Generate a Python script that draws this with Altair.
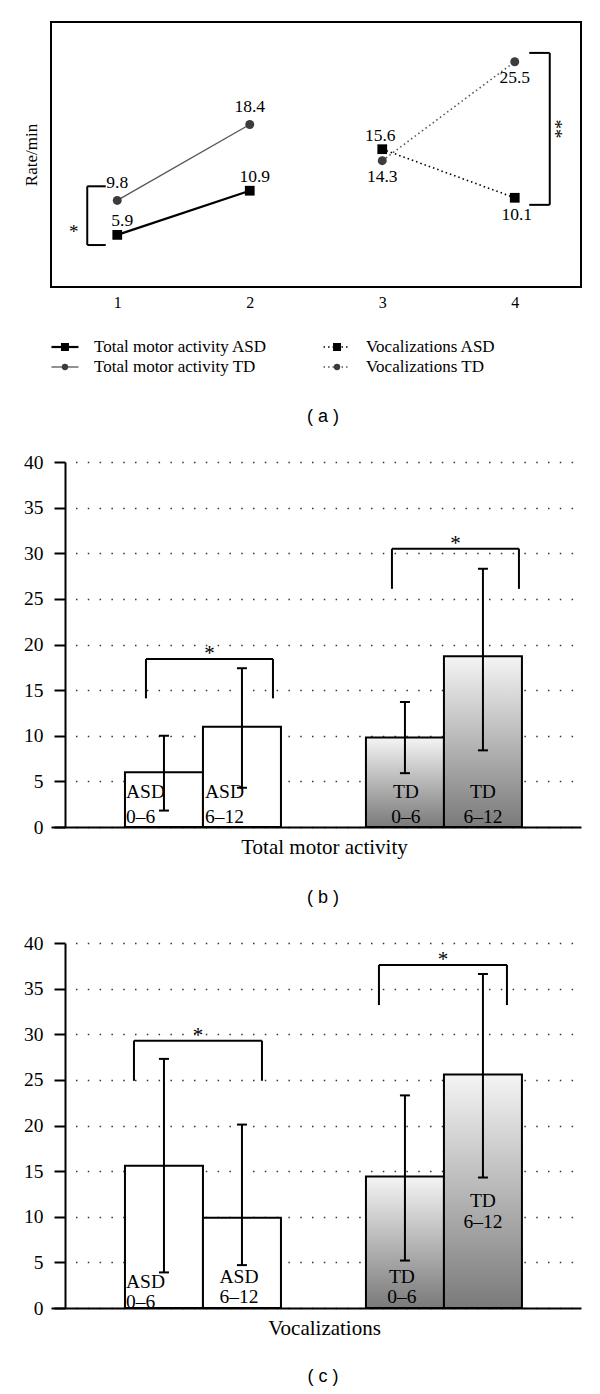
import altair as alt
import pandas as pd

SERIF = "Liberation Serif"
SANS = "Liberation Sans"

# ---------------- panel (a): mean rate/min ----------------
series = ["Total motor activity ASD", "Total motor activity TD",
          "Vocalizations ASD", "Vocalizations TD"]
time_points = [1, 2, 3, 4]
motor_x = [1, 2]
voc_x = [3, 4]
motor_asd = [5.9, 10.9]
motor_td = [9.8, 18.4]
voc_asd = [15.6, 10.1]
voc_td = [14.3, 25.5]

# significance brackets in (a), data units
bracket_a_x = [1, 4]
bracket_a_low = [4.75, 9.3]
bracket_a_high = [11.4, 26.5]
bracket_a_mark = ["*", "**"]

# ---------------- panels (b) and (c) ----------------
groups = ["ASD 0–6", "ASD 6–12", "TD 0–6", "TD 6–12"]
group_kind = ["ASD", "ASD", "TD", "TD"]
group_age = ["0–6", "6–12", "0–6", "6–12"]
motor_mean = [6.0, 11.0, 9.8, 18.7]
motor_err_low = [1.8, 4.3, 5.9, 8.4]
motor_err_high = [10.0, 17.4, 13.7, 28.3]
voc_mean = [15.6, 9.9, 14.4, 25.6]
voc_err_low = [3.9, 4.7, 5.2, 14.3]
voc_err_high = [27.3, 20.1, 23.3, 36.6]
y_ticks = [0, 5, 10, 15, 20, 25, 30, 35, 40]
sig_kind = ["ASD", "TD"]
sig_mark = ["*", "*"]
motor_sig_top = [18.4, 30.5]
motor_sig_foot = [14.1, 26.1]
voc_sig_top = [29.3, 37.6]
voc_sig_foot = [24.9, 33.2]

# ---------------- styles ----------------
STYLE = {
    "Total motor activity ASD": dict(line="black", point="black", width=2.2, dash=None,
                                     shape="square", size=95, leg_size=64),
    "Total motor activity TD": dict(line="#555555", point="#3c3c3c", width=1.3, dash=None,
                                    shape="circle", size=80, leg_size=40),
    "Vocalizations ASD": dict(line="black", point="black", width=1.6, dash=[1.5, 3],
                              shape="square", size=95, leg_size=64),
    "Vocalizations TD": dict(line="#555555", point="#3c3c3c", width=1.6, dash=[1.5, 3],
                             shape="circle", size=80, leg_size=40),
}
PLOT_W = 530

# ================= panel (a) =================
rows = []
for name, xs, ys in zip(series, [motor_x, motor_x, voc_x, voc_x],
                        [motor_asd, motor_td, voc_asd, voc_td]):
    for xv, yv in zip(xs, ys):
        rows.append({"series": name, "x": xv, "y": yv})
a_df = pd.DataFrame(rows)


def xa(field="x"):
    return alt.X(f"{field}:Q", scale=alt.Scale(domain=[0.5, 4.5], nice=False, zero=False),
                 axis=alt.Axis(values=time_points, format="d", ticks=False, tickSize=0,
                               domain=False, grid=False, labelFont=SERIF, labelFontSize=16,
                               labelPadding=7, labelColor="black", labelAngle=0, title=None))


def ya(field="y"):
    return alt.Y(f"{field}:Q", scale=alt.Scale(domain=[0, 30], nice=False, zero=False),
                 axis=alt.Axis(labels=False, ticks=False, domain=False, grid=False,
                               title="Rate/min", titleFont=SERIF, titleFontSize=17,
                               titleFontWeight="normal", titleColor="black", titlePadding=11))


base_a = alt.Chart(a_df)
a_layers = []
for name in series:
    st = STYLE[name]
    kw = dict(color=st["line"], strokeWidth=st["width"])
    if st["dash"]:
        kw["strokeDash"] = st["dash"]
    a_layers.append(base_a.transform_filter(alt.datum.series == name)
                    .mark_line(**kw).encode(x=xa(), y=ya()))
for name in series:
    st = STYLE[name]
    a_layers.append(base_a.transform_filter(alt.datum.series == name)
                    .mark_point(shape=st["shape"], size=st["size"], filled=True,
                                color=st["point"], opacity=1)
                    .encode(x=xa(), y=ya()))

label_rules = [
    ("datum.series == 'Total motor activity ASD'", 5, -14),
    ("datum.series == 'Total motor activity TD'", 0, -17),
    ("datum.series == 'Vocalizations ASD' && datum.x == 3", -2, -13),
    ("datum.series == 'Vocalizations ASD' && datum.x == 4", 2, 17),
    ("datum.series == 'Vocalizations TD'", 0, 16),
]
for expr, dx, dy in label_rules:
    a_layers.append(base_a.transform_filter(expr)
                    .mark_text(font=SERIF, fontSize=17.5, color="black", baseline="middle",
                               align="center", dx=dx, dy=dy)
                    .encode(x=xa(), y=ya(), text=alt.Text("y:Q", format=".1f")))

br_df = pd.DataFrame({"x": bracket_a_x, "lo": bracket_a_low, "hi": bracket_a_high,
                      "mark": bracket_a_mark})
base_br = alt.Chart(br_df)
for xv, vx, tx in [(1, -30, -11.5), (4, 35, 14.5)]:
    b = base_br.transform_filter(alt.datum.x == xv)
    a_layers.append(b.mark_rule(color="black", strokeWidth=2, xOffset=vx)
                    .encode(x=xa(), y=ya("lo"), y2="hi:Q"))
    for fld in ["lo", "hi"]:
        a_layers.append(b.mark_rule(color="black", strokeWidth=2, xOffset=vx, x2Offset=tx)
                        .encode(x=xa(), x2="x:Q", y=ya(fld)))
a_layers.append(base_br.transform_filter(alt.datum.x == 1)
                .mark_text(font=SERIF, fontSize=19, color="black", baseline="middle",
                           align="center", xOffset=-43.5, dy=-13)
                .encode(x=xa(), y=ya("lo"), text="mark:N"))
a_layers.append(base_br.transform_filter(alt.datum.x == 4)
                .transform_calculate(mid="(datum.lo + datum.hi) / 2")
                .mark_text(font=SERIF, fontSize=19, color="black", baseline="middle",
                           align="center", angle=90, xOffset=40)
                .encode(x=xa(), y=ya("mid"), text="mark:N"))

panel_a = alt.layer(*a_layers).properties(
    width=PLOT_W, height=265,
    view=alt.ViewBackground(stroke="black", strokeWidth=2),
)

# legend for (a)
leg_df = pd.DataFrame({"series": series,
                       "col": [i // 2 for i in range(len(series))],
                       "row": [i % 2 for i in range(len(series))]})
lx = alt.X("col:O", scale=alt.Scale(type="point", padding=0.474), axis=None)
ly = alt.Y("row:O", scale=alt.Scale(type="point", padding=0.5), axis=None)
base_leg = alt.Chart(leg_df)
leg_layers = []
for name in series:
    st = STYLE[name]
    kw = dict(shape="M-1,0H1", size=729, filled=False, stroke=st["line"],
              strokeWidth=st["width"], opacity=1, xOffset=-115)
    if st["dash"]:
        kw["strokeDash"] = st["dash"]
    sub = base_leg.transform_filter(alt.datum.series == name)
    leg_layers.append(sub.mark_point(**kw).encode(x=lx, y=ly))
    leg_layers.append(sub.mark_point(shape=st["shape"], size=st["leg_size"], filled=True,
                                     color=st["point"], opacity=1, xOffset=-115)
                      .encode(x=lx, y=ly))
leg_layers.append(base_leg.mark_text(font=SERIF, fontSize=17, color="black", align="left",
                                     baseline="middle", dx=-86)
                  .encode(x=lx, y=ly, text="series:N"))
legend_a = alt.layer(*leg_layers).properties(
    width=PLOT_W, height=40,
    title=alt.TitleParams("( a )", orient="bottom", font=SANS, fontSize=18,
                          fontWeight="normal", color="black", offset=31, dx=7,
                          frame="group", anchor="middle"),
)

# ================= panels (b), (c) =================
TD_FILL = alt.LinearGradient(
    gradient="linear",
    stops=[alt.GradientStop(color="#f4f4f4", offset=0),
           alt.GradientStop(color="#7a7a7a", offset=1)],
    x1=0, x2=0, y1=0, y2=1,
)
GRID_DASH = [0, 24.5] + [1.5, 10.3] * 48


def bar_panel(mean, lo, hi, sig_top, sig_foot, xtitle, caption, cap_offset,
              label_specs, br_offsets):
    df = pd.DataFrame({"group": groups, "kind": group_kind, "age": group_age,
                       "mean": mean, "lo": lo, "hi": hi})
    sig = pd.DataFrame({"kind": sig_kind, "top": sig_top, "foot": sig_foot, "mark": sig_mark})

    def xb(field="kind"):
        return alt.X(f"{field}:N", sort=None,
                     scale=alt.Scale(domain=["ASD", "TD"], paddingInner=0.3527,
                                     paddingOuter=0.276, align=0.556),
                     axis=alt.Axis(title=xtitle, labels=False, ticks=False, domain=True,
                                   domainColor="black", domainWidth=2, grid=False,
                                   titleFont=SERIF, titleFontSize=21, titleFontWeight="normal",
                                   titleColor="black", titlePadding=9, titleX=273))

    xo = alt.XOffset("age:N", sort=None,
                     scale=alt.Scale(domain=["0–6", "6–12"], paddingInner=0, paddingOuter=0))

    def yb(field):
        return alt.Y(f"{field}:Q", scale=alt.Scale(domain=[0, 40], nice=False),
                     axis=alt.Axis(values=y_ticks, title=None, grid=True, gridDash=GRID_DASH,
                                   gridColor="#333333", gridWidth=1.6, tickSize=11, tickWidth=2,
                                   tickColor="black", domainColor="black", domainWidth=2,
                                   labelFont=SERIF, labelFontSize=19.5, labelColor="black",
                                   labelPadding=11, offset=-14))

    base = alt.Chart(df)
    layers = [
        base.transform_filter(alt.datum.kind == "ASD")
            .mark_bar(fill="white", stroke="black", strokeWidth=2)
            .encode(x=xb(), xOffset=xo, y=yb("mean")),
        base.transform_filter(alt.datum.kind == "TD")
            .mark_bar(fill=TD_FILL, stroke="black", strokeWidth=2)
            .encode(x=xb(), xOffset=xo, y=yb("mean")),
        base.mark_rule(color="black", strokeWidth=2)
            .encode(x=xb(), xOffset=xo, y=yb("lo"), y2="hi:Q"),
        base.mark_tick(orient="horizontal", size=10, thickness=2, color="black", opacity=1)
            .encode(x=xb(), xOffset=xo, y=yb("lo")),
        base.mark_tick(orient="horizontal", size=10, thickness=2, color="black", opacity=1)
            .encode(x=xb(), xOffset=xo, y=yb("hi")),
    ]
    for g, align, dx, dy, lh in label_specs:
        layers.append(
            base.transform_filter(alt.datum.group == g)
                .transform_calculate(lines="[datum.kind, datum.age]")
                .mark_text(font=SERIF, fontSize=19.5, lineHeight=lh, align=align,
                           baseline="bottom", dx=dx, dy=dy, color="black")
                .encode(x=xb(), xOffset=xo, y=alt.datum(0), text="lines:N"))
    sbase = alt.Chart(sig)
    for kind, (ol, orr) in zip(sig_kind, br_offsets):
        s = sbase.transform_filter(alt.datum.kind == kind)
        layers.append(s.mark_rule(color="black", strokeWidth=2, xOffset=ol)
                      .encode(x=xb(), y=yb("foot"), y2="top:Q"))
        layers.append(s.mark_rule(color="black", strokeWidth=2, xOffset=orr)
                      .encode(x=xb(), y=yb("foot"), y2="top:Q"))
        layers.append(s.mark_rule(color="black", strokeWidth=2, xOffset=ol, x2Offset=orr)
                      .encode(x=xb(), x2="kind:N", y=yb("top")))
        layers.append(s.mark_text(font=SERIF, fontSize=21, color="black", align="center",
                                  baseline="middle", xOffset=(ol + orr) / 2, dy=-5)
                      .encode(x=xb(), y=yb("top"), text="mark:N"))
    return alt.layer(*layers).properties(
        width=PLOT_W, height=365,
        title=alt.TitleParams(caption, orient="bottom", font=SANS, fontSize=18,
                              fontWeight="normal", color="black", offset=cap_offset, dx=7,
                              frame="group", anchor="middle"),
    )


panel_b = bar_panel(
    motor_mean, motor_err_low, motor_err_high, motor_sig_top, motor_sig_foot,
    "Total motor activity", "( b )", 32,
    [("ASD 0–6", "left", -38, -25, 25), ("ASD 6–12", "left", -37, -25, 25),
     ("TD 0–6", "center", 1, -25, 25), ("TD 6–12", "center", 0, -25, 25)],
    [(-57, 70), (-52, 75)],
)
panel_c = bar_panel(
    voc_mean, voc_err_low, voc_err_high, voc_sig_top, voc_sig_foot,
    "Vocalizations", "( c )", 30,
    [("ASD 0–6", "left", -38, -16, 20), ("ASD 6–12", "center", -3, -21, 20),
     ("TD 0–6", "center", -3, -21, 20), ("TD 6–12", "center", 0, -97, 21)],
    [(-69, 59), (-65, 63)],
)

chart = (
    alt.vconcat(panel_a, legend_a, panel_b, panel_c, spacing=26)
    .properties(padding={"left": 13, "top": 13, "right": 0, "bottom": 0})
    .configure_view(strokeWidth=0)
    .configure_axis(labelColor="black", titleColor="black", labelFont=SERIF, titleFont=SERIF)
)

chart.save("out.html", embed_options={"renderer": "svg", "actions": False})
